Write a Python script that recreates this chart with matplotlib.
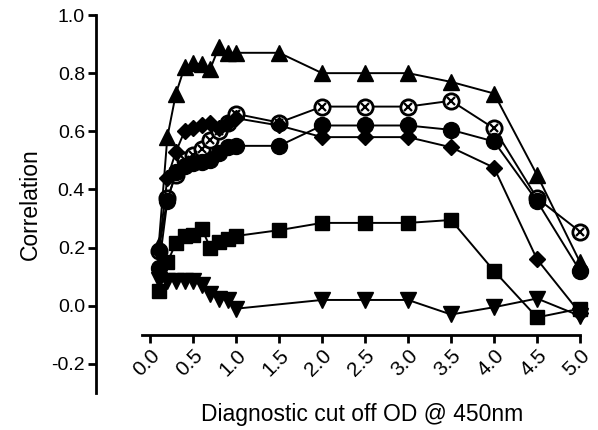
import numpy as np
import matplotlib
matplotlib.use("Agg")
import matplotlib.pyplot as plt

plt.rcParams['font.family'] = ['Liberation Sans', 'DejaVu Sans']

# cut off values (OD @ 450nm)
cutoff = [0.1, 0.2, 0.3, 0.4, 0.5, 0.6, 0.7, 0.8, 0.9, 1.0,
          1.5, 2.0, 2.5, 3.0, 3.5, 4.0, 4.5, 5.0]

tri_up = [0.21, 0.58, 0.73, 0.82, 0.835, 0.83, 0.815, 0.89, 0.87, 0.87,
          0.87, 0.80, 0.80, 0.80, 0.77, 0.73, 0.45, 0.15]
otimes = [0.19, 0.37, 0.45, 0.50, 0.52, 0.54, 0.57, 0.60, 0.63, 0.66,
          0.63, 0.685, 0.685, 0.685, 0.705, 0.61, 0.37, 0.255]
circle = [0.13, 0.36, 0.46, 0.48, 0.49, 0.495, 0.50, 0.525, 0.545, 0.55,
          0.55, 0.62, 0.62, 0.62, 0.605, 0.565, 0.36, 0.12]
diamond = [0.19, 0.44, 0.53, 0.60, 0.61, 0.62, 0.63, 0.61, 0.63, 0.645,
           0.62, 0.58, 0.58, 0.58, 0.545, 0.475, 0.16, -0.025]
square = [0.05, 0.15, 0.215, 0.24, 0.245, 0.265, 0.20, 0.22, 0.23, 0.24,
          0.26, 0.285, 0.285, 0.285, 0.295, 0.12, -0.04, -0.01]
tri_down = [0.09, 0.085, 0.085, 0.085, 0.085, 0.07, 0.04, 0.025, 0.02, -0.01,
            np.nan, 0.02, 0.02, 0.02, -0.03, -0.005, 0.025, -0.035]

xticks = [0.0, 0.5, 1.0, 1.5, 2.0, 2.5, 3.0, 3.5, 4.0, 4.5, 5.0]
yticks = [-0.2, 0.0, 0.2, 0.4, 0.6, 0.8, 1.0]

fig = plt.figure(figsize=(5.98, 4.30), dpi=100)
ax = fig.add_axes([96 / 598, 37 / 430, (580 - 96) / 598, (393 - 15) / 430])

x = np.array(cutoff)


def draw(y, **kw):
    y = np.array(y, dtype=float)
    m = ~np.isnan(y)
    ax.plot(x[m], y[m], color='black', lw=1.4, clip_on=False, **kw)


# otimes first so the filled markers sit on top of it
draw(otimes, marker='o', ms=11, mfc='white', mec='black', mew=2)
ax.plot(x, otimes, ls='none', marker='x', ms=6, mec='black', mew=1.6,
        clip_on=False)
draw(circle, marker='o', ms=11.5, mfc='black', mec='black')
draw(diamond, marker='D', ms=8, mfc='black', mec='black')
draw(tri_up, marker='^', ms=11, mfc='black', mec='black')
draw(square, marker='s', ms=9.5, mfc='black', mec='black')
draw(tri_down, marker='v', ms=11, mfc='black', mec='black')

ax.set_xlim(-0.63, 5.0)
ax.set_ylim(-0.3, 1.0)

for s in ['top', 'right']:
    ax.spines[s].set_visible(False)
ax.spines['left'].set_linewidth(2)
ax.spines['bottom'].set_linewidth(2)
ax.spines['bottom'].set_position(('data', -0.1))
ax.spines['bottom'].set_bounds(-0.09, 5.0)
ax.spines['left'].set_bounds(-0.3, 1.0)

ax.set_xticks(xticks)
ax.set_xticklabels(['%.1f' % t for t in xticks], rotation=45, ha='right',
                   va='top', rotation_mode='anchor')
ax.set_yticks(yticks)
ax.set_yticklabels(['%.1f' % t for t in yticks])
ax.tick_params(axis='both', width=2, length=6, pad=2)
ax.tick_params(axis='y', labelsize=14)
ax.tick_params(axis='x', labelsize=15)

ax.set_ylabel('Correlation', fontsize=16.5, va='center')
ax.yaxis.set_label_coords((30 - 96) / 484, (393 - 204) / 378)
ax.set_xlabel('Diagnostic cut off OD @ 450nm', fontsize=16.5, va='center')
ax.xaxis.set_label_coords((362 - 96) / 484, (393 - 414) / 378)

fig.savefig('out.png', dpi=100)
